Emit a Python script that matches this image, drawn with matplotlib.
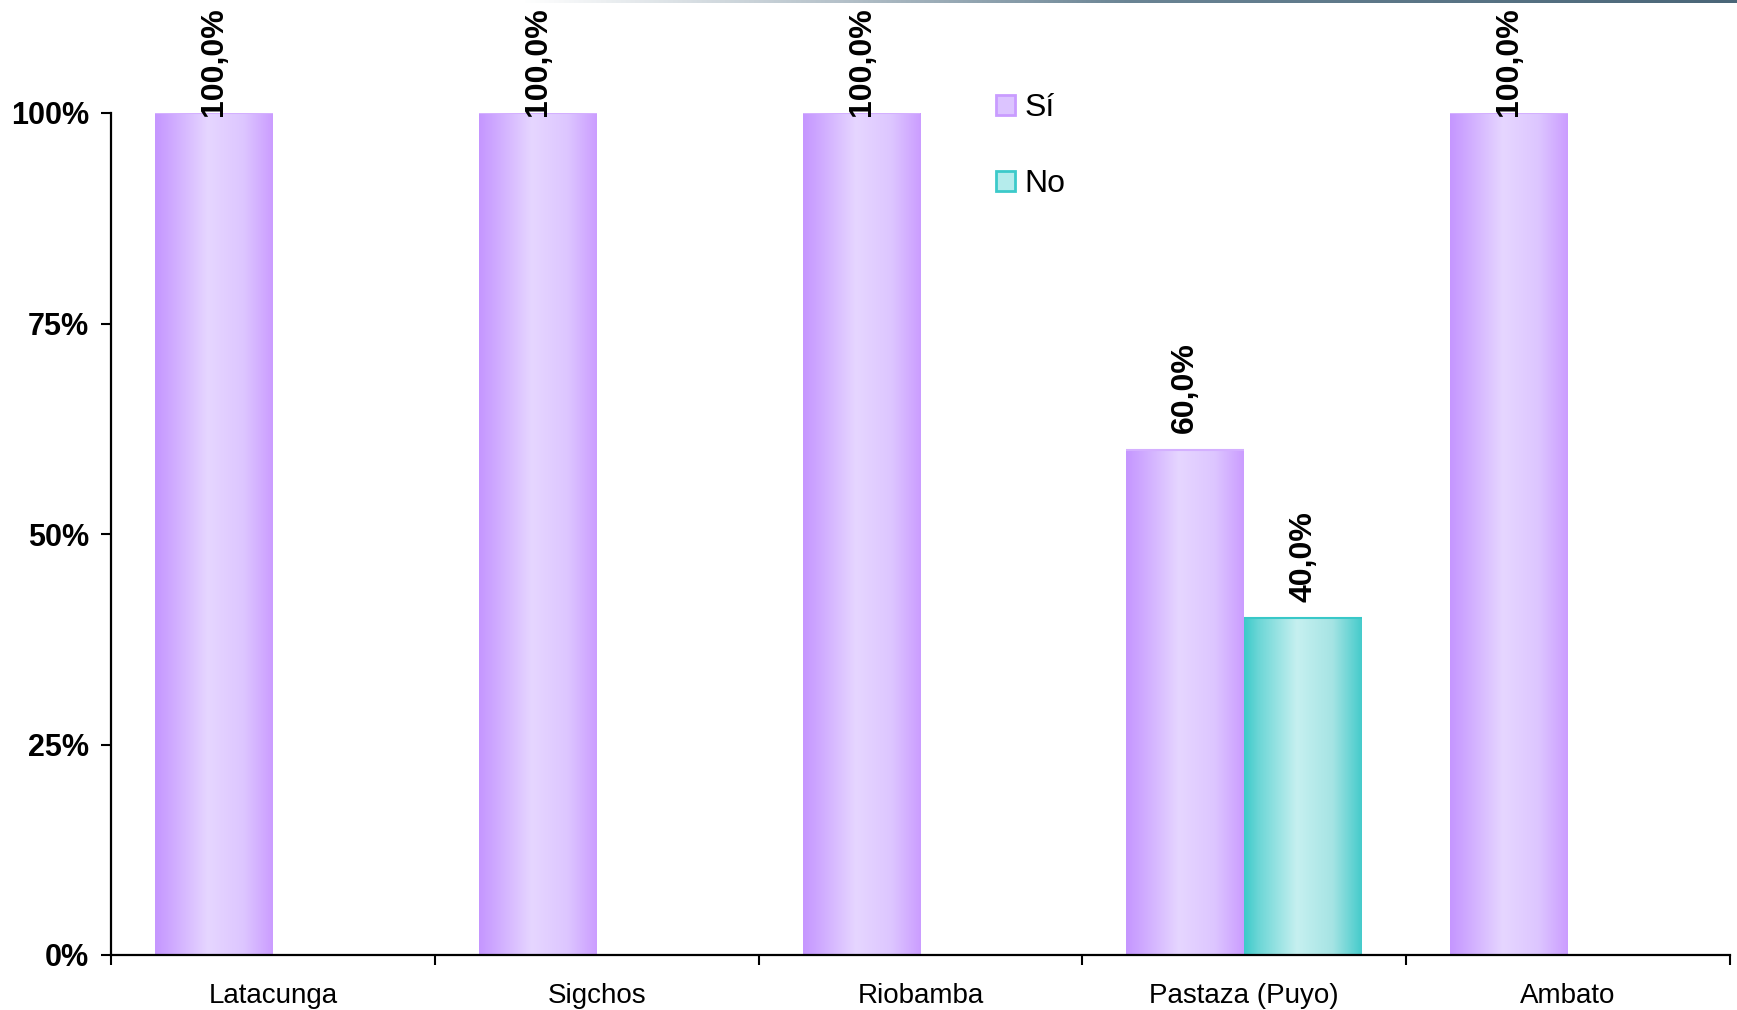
import numpy as np
import matplotlib
matplotlib.use('Agg')
import matplotlib.pyplot as plt
from matplotlib.colors import LinearSegmentedColormap
from matplotlib.patches import Patch

# ---- data ----
categories = ['Latacunga', 'Sigchos', 'Riobamba', 'Pastaza (Puyo)', 'Ambato']
series_names = ['Sí', 'No']
si_values = [1.0, 1.0, 1.0, 0.6, 1.0]
no_values = [0.0, 0.0, 0.0, 0.4, 0.0]
ytick_values = [0, 0.25, 0.5, 0.75, 1.0]
ytick_labels = ['0%', '25%', '50%', '75%', '100%']

plt.rcParams['font.family'] = ['Liberation Sans', 'DejaVu Sans']

W, H = 1737, 1010
fig = plt.figure(figsize=(W / 100, H / 100), dpi=100)
ax = fig.add_axes([111 / W, 1 - 955 / H, (1730 - 111) / W, (955 - 113) / H])

purple_cmap = LinearSegmentedColormap.from_list(
    'purp', [(0.0, '#c596ff'), (0.12, '#cda6ff'), (0.45, '#e6d6ff'),
             (0.75, '#ddc6ff'), (1.0, '#cb9dff')])
teal_cmap = LinearSegmentedColormap.from_list(
    'teal', [(0.0, '#3ccaca'), (0.12, '#6bd6d6'), (0.45, '#c6f0f0'),
             (0.75, '#a6e4e4'), (1.0, '#45cbcb')])

x = np.arange(len(categories))
w = 0.364
bars_si = ax.bar(x - w / 2, si_values, w, color='#dcc4ff', edgecolor='none', zorder=2)
bars_no = ax.bar(x + w / 2, no_values, w, color='#9ee3e3', edgecolor='none', zorder=2)

grad = np.linspace(0, 1, 256).reshape(1, -1)
for bars, cmap, edge in [(bars_si, purple_cmap, '#d4b0ff'), (bars_no, teal_cmap, '#38c8c8')]:
    for p in bars:
        if p.get_height() <= 0:
            continue
        x0, y0 = p.get_x(), p.get_y()
        x1, y1 = x0 + p.get_width(), y0 + p.get_height()
        im = ax.imshow(grad, extent=[x0, x1, y0, y1], aspect='auto', cmap=cmap,
                       zorder=2.5, interpolation='bilinear')
        im.set_clip_path(p)
        ax.plot([x0, x1], [y1, y1], color=edge, lw=1.5, zorder=2.6, solid_capstyle='butt')

# value labels
def fmt(v):
    return f"{v * 100:.1f}%".replace('.', ',')

for bars, vals in [(bars_si, si_values), (bars_no, no_values)]:
    for p, v in zip(bars, vals):
        if v <= 0:
            continue
        off = 12 if v < 1 else -2
        ax.annotate(fmt(v), xy=(p.get_x() + p.get_width() / 2, v),
                    xytext=(0, off), textcoords='offset points',
                    rotation=90, ha='center', va='bottom',
                    fontsize=23, fontweight='bold', color='black',
                    annotation_clip=False, zorder=5)

ax.set_xlim(-0.5, len(categories) - 0.5)
ax.set_ylim(0, 1)

for s in ['top', 'right']:
    ax.spines[s].set_visible(False)
for s in ['left', 'bottom']:
    ax.spines[s].set_linewidth(1.6)
    ax.spines[s].set_color('black')

ax.set_yticks(ytick_values)
ax.set_yticklabels(ytick_labels, fontsize=22, fontweight='bold')
ax.tick_params(axis='y', length=7, width=1.5, pad=9, direction='out')

ax.set_xticks(x)
ax.set_xticklabels(categories, fontsize=20)
ax.tick_params(axis='x', which='major', length=0, pad=20)
ax.set_xticks(np.arange(-0.5, len(categories)), minor=True)
ax.tick_params(axis='x', which='minor', length=7, width=1.5, direction='out')

# legend
handles = [Patch(facecolor='#dcc4ff', edgecolor='#c99cff', linewidth=2),
           Patch(facecolor='#b5ecec', edgecolor='#3ccaca', linewidth=2)]
leg = fig.legend(handles, series_names, loc='upper left',
                 bbox_to_anchor=(996 / W, 1 - 93 / H), frameon=False,
                 fontsize=23, handlelength=0.6, handleheight=0.6,
                 handletextpad=0.3, labelspacing=1.45, borderpad=0, borderaxespad=0)

# top decorative line
lax = fig.add_axes([0.3, 1 - 3 / H, 0.7, 3 / H])
lgrad = np.linspace(0, 1, 512).reshape(1, -1)
line_cmap = LinearSegmentedColormap.from_list(
    'ln', [(0.0, '#ffffff'), (0.25, '#b8c4cc'), (0.5, '#6a8494'), (1.0, '#4a6678')])
lax.imshow(lgrad, aspect='auto', cmap=line_cmap, extent=[0, 1, 0, 1])
lax.axis('off')

fig.savefig('out.png', dpi=100, facecolor='white')
